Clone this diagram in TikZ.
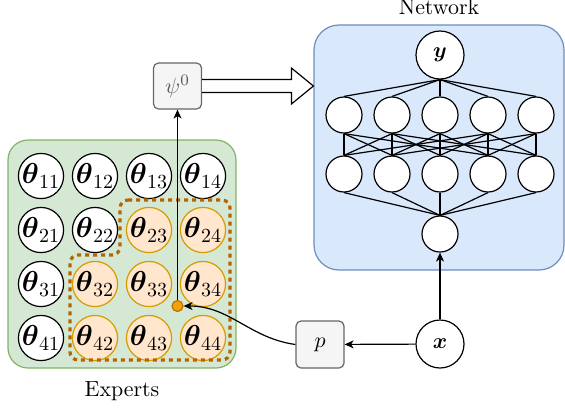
\documentclass[tikz,border=0pt]{standalone}
\usepackage{fontspec}
\usepackage{xcolor}
\usepackage{amsmath}
\usepackage{tikz}
\usetikzlibrary{shapes.geometric, arrows.meta, calc, positioning, fit}

\definecolor{expfill}{RGB}{213,232,212}
\definecolor{expdraw}{RGB}{130,179,102}
\definecolor{netfill}{RGB}{218,232,252}
\definecolor{netdraw}{RGB}{108,142,191}
\definecolor{selfill}{RGB}{255,230,204}
\definecolor{seldraw}{RGB}{215,155,0}
\definecolor{regdraw}{RGB}{180,101,4}
\definecolor{dotfill}{RGB}{240,163,10}
\definecolor{dotdraw}{RGB}{189,112,0}
\definecolor{boxfill}{RGB}{245,245,245}
\definecolor{boxdraw}{RGB}{102,102,102}
\definecolor{boxtext}{RGB}{90,90,90}

\begin{document}
\begin{tikzpicture}[x=0.5pt, y=-0.5pt, line width=0.6pt, font=\fontsize{10.95}{13.6}\selectfont,
		arrow/.style = {-{Stealth[length=4.5pt,width=4pt,inset=1.3pt]}}]
				\tikzset{expert/.style={draw,circle,minimum size=20.5pt,inner sep=0pt,fill=white,font=\fontsize{14.4}{16}\selectfont}}
				\tikzset{neuron/.style={draw,circle,minimum size=18pt,inner sep=0pt,fill=white}}
				\tikzset{gray box/.style={draw=boxdraw,fill=boxfill,rectangle,rounded corners=2.5pt,inner sep=0pt}}

				\useasboundingbox (0,0) rectangle (565,409);

				% experts and network panels
				\node[draw=expdraw, fill=expfill, rounded corners=10pt, minimum width=114pt, minimum height=114pt, inner sep=0pt] (expbox) at (122,254) {};
				\node[below=3pt of expbox] (explabel) {Experts};

				\node[draw=netdraw, fill=netfill, rounded corners=12.5pt, minimum width=125pt, minimum height=122.5pt, inner sep=0pt] (net) at (439,147.5) {};
				\node[above=1pt of net] (netlabel) {Network};

				% expert parameters
				\foreach \r/\c in {1/1,1/2,1/3,1/4,2/1,2/2,3/1,4/1}
					\node[expert] (t\r\c) at ({41+54*(\c-1)},{176+54*(\r-1)}) {$\boldsymbol{\theta}_{\r\c}$};
				\foreach \r/\c in {2/3,2/4,3/2,3/3,3/4,4/2,4/3,4/4}
					\node[expert, draw=seldraw, fill=selfill] (t\r\c) at ({41+54*(\c-1)},{176+54*(\r-1)}) {$\boldsymbol{\theta}_{\r\c}$};

				\draw[regdraw, line width=1.6pt, dash pattern=on 2pt off 2pt, rounded corners=4pt]
					(120,200) -- (230,200) -- (230,360) -- (70,360) -- (70,255) -- (120,255) -- cycle;

				\node[circle, draw=dotdraw, fill=dotfill, minimum size=5.5pt, inner sep=0pt] (sel) at (177.5,306) {};

				% network layers
				\node[neuron, minimum size=24pt] (y) at (440,55) {$\boldsymbol{y}$};
				\foreach \i in {1,...,5} {
					\node[neuron] (h\i) at ({344+48*(\i-1)},115) {};
					\node[neuron] (g\i) at ({344+48*(\i-1)},174) {};
				}
				\node[neuron] (in) at (440,234) {};

				\foreach \i in {1,...,5} \draw (y.south) -- (h\i.north);
				\foreach \i/\j in {1/1,1/2,1/4,2/1,2/2,2/3,2/5,3/2,3/3,3/4,4/1,4/3,4/4,4/5,5/2,5/4,5/5}
					\draw (h\i.south) -- (g\j.north);
				\foreach \i in {1,...,5} \draw (g\i.south) -- (in.north);

				% inputs
				\node[neuron, minimum size=24pt] (x) at (440,344) {$\boldsymbol{x}$};
				\node[gray box, minimum width=24pt, minimum height=23.5pt] (p) at (320,344.5) {$p$};
				\node[gray box, minimum width=24pt, minimum height=23pt, text=boxtext] (psi) at (177.5,86) {$\psi^0$};

				\draw [arrow] (x) -- (in);
				\draw [arrow] (x) -- (p);
				\draw [arrow] (p.west) to[out=172, in=0] (sel.east);
				\draw [arrow] (sel) -- (psi);

				% block arrow into the network
				\coordinate (tip) at (net.west |- psi.east);
				\draw[fill=white] ($(psi.east)+(0,-6.5)$) -- ($(tip)+(-22,-6.5)$) -- ($(tip)+(-22,-18)$) -- (tip)
					-- ($(tip)+(-22,18)$) -- ($(tip)+(-22,6.5)$) -- ($(psi.east)+(0,6.5)$);

\end{tikzpicture}
\end{document}
